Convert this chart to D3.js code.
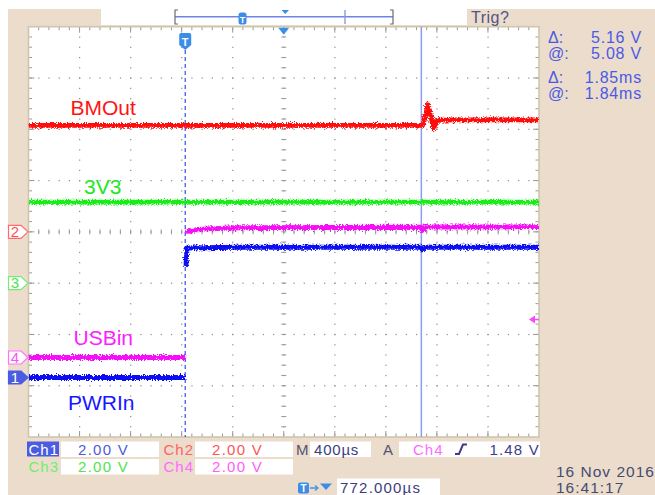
<!DOCTYPE html>
<html>
<head>
<meta charset="utf-8">
<script src="https://cdn.jsdelivr.net/npm/d3@7"></script>
<style>
  html, body { margin: 0; padding: 0; background: #fff; }
  svg { display: block; font-family: "Liberation Sans", Arial, sans-serif; }
</style>
</head>
<body>
<svg id="scope" width="655" height="495"></svg>
<script>
// ---- acquisition settings ----
const timePerDiv = 400;          // µs per division
const horizPosition = 772;       // µs from trigger to screen centre
const hDivs = 10;
const vDivs = 8;
const channels = ["ch1", "ch2", "ch3", "ch4"];
const voltsPerDiv = [2.00, 2.00, 2.00, 2.00];
const channelOffsetDiv = [-2.84, 0, -1.0, -2.45];   // ground marker position, divisions
const triggerLevel = 1.48;       // V on ch4
const cursorTime = 1850;         // µs

// ---- waveforms: [time µs, volts]; null splits a trace ----
const bmOutTime  = [-1228, 1860, 1866, 1902, 1947, 1968, 2100, 2772];
const bmOutVolts = [4.15, 4.15, 4.22, 4.95, 4.02, 4.35, 4.37, 4.37];

const v3v3Time  = [-1228, 2772];
const v3v3Volts = [3.16, 3.16];

const usbInTime  = [-1228, 0, null, 6, 100, 400, 1848, 1858, 1880, 2772];
const usbInVolts = [0, 0, null, 4.9, 5.0, 5.06, 5.08, 4.97, 5.09, 5.1];

const pwrInTime  = [-1228, 2, null, 6, 14, 400, 1848, 1858, 1880, 2772];
const pwrInVolts = [0, 0, null, 4.35, 5.05, 5.08, 5.08, 4.98, 5.08, 5.08];

// ---- readouts ----
const traceLabels = ["BMOut", "3V3", "USBin", "PWRIn"];
const cursorReadout = [["Δ:", "5.16 V"], ["@:", "5.08 V"], ["Δ:", "1.85ms"], ["@:", "1.84ms"]];
const scaleReadout = ["2.00 V", "2.00 V", "2.00 V", "2.00 V"];
const timebaseText = "400µs";
const triggerSource = "Ch4";
const triggerLevelText = "1.48 V";
const horizPosText = "772.000µs";
const dateText = ["16 Nov 2016", "16:41:17"];

// ---- layout ----
const svg = d3.select("#scope");
const W = 655, H = 495;
const plot = { left: 28.5, right: 539, top: 26.7, bottom: 437 };
const beige = "#ecdccc";

const tStart = horizPosition - timePerDiv * hDivs / 2;
const tEnd = horizPosition + timePerDiv * hDivs / 2;
const x = d3.scaleLinear().domain([tStart, tEnd]).range([plot.left, plot.right]);
const yDiv = d3.scaleLinear().domain([-vDivs / 2, vDivs / 2]).range([plot.bottom, plot.top]);
const divW = (plot.right - plot.left) / hDivs;
const divH = (plot.bottom - plot.top) / vDivs;

function yVolts(ch) {
  const i = channels.indexOf(ch);
  return v => yDiv(channelOffsetDiv[i] + v / voltsPerDiv[i]);
}

// background
svg.append("rect").attr("width", W).attr("height", H).attr("fill", "#fff");
svg.append("rect").attr("x", 8).attr("y", 9).attr("width", W - 8).attr("height", H - 9).attr("fill", beige);

// defs
const defs = svg.append("defs");
defs.append("clipPath").attr("id", "plotClip").append("rect")
  .attr("x", plot.left).attr("y", plot.top)
  .attr("width", plot.right - plot.left).attr("height", plot.bottom - plot.top);
const jit = defs.append("filter").attr("id", "jitter")
  .attr("filterUnits", "userSpaceOnUse").attr("x", 0).attr("y", 0).attr("width", W).attr("height", H);
jit.append("feTurbulence").attr("type", "fractalNoise").attr("baseFrequency", "1.4 0.7")
  .attr("numOctaves", 2).attr("seed", 7).attr("result", "noise");
jit.append("feDisplacementMap").attr("in", "SourceGraphic").attr("in2", "noise")
  .attr("scale", 6).attr("xChannelSelector", "R").attr("yChannelSelector", "G");

// ---- record view bar at top ----
const topBar = svg.append("g");
topBar.append("rect").attr("x", 101).attr("y", 0).attr("width", 366).attr("height", 25).attr("fill", "#fff");
topBar.append("line").attr("x1", 175).attr("x2", 393).attr("y1", 16.7).attr("y2", 16.7)
  .attr("stroke", "#7084e4").attr("stroke-width", 1.6);
topBar.append("path").attr("d", "M178,10 L175,10 L175,24 L178,24 M390,10 L393,10 L393,24 L390,24")
  .attr("fill", "none").attr("stroke", "#6a6a78").attr("stroke-width", 1.2);
topBar.append("line").attr("x1", 345).attr("x2", 345).attr("y1", 10).attr("y2", 24)
  .attr("stroke", "#8a98ec").attr("stroke-width", 1.4);
topBar.append("rect").attr("x", 238.5).attr("y", 12.5).attr("width", 8).attr("height", 12).attr("rx", 2.5)
  .attr("fill", "#3a8ee8");
topBar.append("text").attr("x", 242.5).attr("y", 22.5).attr("text-anchor", "middle")
  .attr("font-size", 9).attr("font-weight", "bold").attr("fill", "#fff").text("T");
topBar.append("path").attr("d", "M281.5,10 L289,10 L285.2,14 Z").attr("fill", "#3a8ee8");
svg.append("text").attr("x", 471).attr("y", 22.5).attr("font-size", 16).attr("fill", "#4f5586")
  .attr("letter-spacing", 0.5).text("Trig?");

// ---- graticule ----
svg.append("rect").attr("x", plot.left).attr("y", plot.top)
  .attr("width", plot.right - plot.left).attr("height", plot.bottom - plot.top).attr("fill", "#fff");

const grid = svg.append("g").attr("stroke", "#9a9a9a").attr("stroke-width", 1);
const majorX = d3.range(1, hDivs).map(i => plot.left + i * divW);
const majorY = d3.range(1, vDivs).map(i => plot.top + i * divH);
const minorXs = d3.range(1, hDivs * 5).map(i => plot.left + i * divW / 5);
const minorYs = d3.range(1, vDivs * 5).map(i => plot.top + i * divH / 5);

// dotted major lines
majorX.forEach(gx => {
  minorYs.forEach(gy => grid.append("rect").attr("x", gx - 0.5).attr("y", gy - 0.5)
    .attr("width", 1.2).attr("height", 1.2).attr("fill", "#8c8c8c").attr("stroke", "none"));
});
majorY.forEach(gy => {
  minorXs.forEach(gx => grid.append("rect").attr("x", gx - 0.5).attr("y", gy - 0.5)
    .attr("width", 1.2).attr("height", 1.2).attr("fill", "#8c8c8c").attr("stroke", "none"));
});
// centre crosshair ticks
const cx = plot.left + hDivs / 2 * divW, cy = plot.top + vDivs / 2 * divH;
minorXs.forEach(gx => grid.append("line").attr("x1", gx).attr("x2", gx).attr("y1", cy - 2.5).attr("y2", cy + 2.5));
minorYs.forEach(gy => grid.append("line").attr("x1", cx - 2.5).attr("x2", cx + 2.5).attr("y1", gy).attr("y2", gy));
// edge ticks
minorXs.forEach(gx => {
  grid.append("line").attr("x1", gx).attr("x2", gx).attr("y1", plot.top).attr("y2", plot.top + 3.5);
  grid.append("line").attr("x1", gx).attr("x2", gx).attr("y1", plot.bottom - 3.5).attr("y2", plot.bottom);
});
minorYs.forEach(gy => {
  grid.append("line").attr("x1", plot.left).attr("x2", plot.left + 3.5).attr("y1", gy).attr("y2", gy);
  grid.append("line").attr("x1", plot.right - 3.5).attr("x2", plot.right).attr("y1", gy).attr("y2", gy);
});
majorX.forEach(gx => {
  grid.append("line").attr("x1", gx).attr("x2", gx).attr("y1", plot.top).attr("y2", plot.top + 6);
  grid.append("line").attr("x1", gx).attr("x2", gx).attr("y1", plot.bottom - 6).attr("y2", plot.bottom);
});
majorY.forEach(gy => {
  grid.append("line").attr("x1", plot.left).attr("x2", plot.left + 6).attr("y1", gy).attr("y2", gy);
  grid.append("line").attr("x1", plot.right - 6).attr("x2", plot.right).attr("y1", gy).attr("y2", gy);
});
svg.append("rect").attr("x", plot.left).attr("y", plot.top)
  .attr("width", plot.right - plot.left).attr("height", plot.bottom - plot.top)
  .attr("fill", "none").attr("stroke", "#cfc6ae").attr("stroke-width", 1.6);

// ---- trigger position and cursor ----
const tx = x(0);
svg.append("line").attr("x1", tx).attr("x2", tx).attr("y1", 50).attr("y2", plot.bottom)
  .attr("stroke", "#2f4ff0").attr("stroke-width", 1.2).attr("stroke-dasharray", "4,3");
svg.append("line").attr("x1", x(cursorTime)).attr("x2", x(cursorTime))
  .attr("y1", plot.top).attr("y2", plot.bottom).attr("stroke", "#8c9cf0").attr("stroke-width", 1.5);

// ---- waveforms ----
const traces = svg.append("g").attr("clip-path", "url(#plotClip)");
function drawTrace(ch, times, volts, color) {
  const pts = times.map((t, i) => (t == null ? null : [t, volts[i]]));
  const yv = yVolts(ch);
  const line = d3.line().defined(d => d != null).x(d => x(d[0])).y(d => yv(d[1]));
  traces.append("path").attr("d", line(pts)).attr("fill", "none")
    .attr("stroke", color).attr("stroke-width", 4.8).attr("stroke-linejoin", "round")
    .attr("filter", "url(#jitter)");
}
drawTrace("ch3", v3v3Time, v3v3Volts, "#18ee18");
drawTrace("ch2", bmOutTime, bmOutVolts, "#ff0a0a");
drawTrace("ch4", usbInTime, usbInVolts, "#f80cf8");
drawTrace("ch1", pwrInTime, pwrInVolts, "#1010f4");

// trace names
const labelPos = [[70.5, 115], [84, 193.5], [73.5, 345], [68, 410]];
const labelColors = ["#ff1414", "#22e622", "#ff1cff", "#1616ff"];
traceLabels.forEach((t, i) => svg.append("text").attr("x", labelPos[i][0]).attr("y", labelPos[i][1])
  .attr("font-size", 21).attr("fill", labelColors[i]).text(t));

// trigger markers on graticule
const trigMark = svg.append("g");
trigMark.append("path")
  .attr("d", `M${tx - 6},35 Q${tx - 6},33 ${tx - 4},33 L${tx + 4},33 Q${tx + 6},33 ${tx + 6},35 L${tx + 6},45 L${tx},50 L${tx - 6},45 Z`)
  .attr("fill", "#3a8ee8");
trigMark.append("text").attr("x", tx).attr("y", 45.5).attr("text-anchor", "middle")
  .attr("font-size", 11).attr("font-weight", "bold").attr("fill", "#fff").text("T");
svg.append("path").attr("d", `M${cx - 5.5},${plot.top + 1} L${cx + 5.5},${plot.top + 1} L${cx},${plot.top + 8} Z`)
  .attr("fill", "#3a8ee8");
// trigger level arrow (ch4)
const tly = yVolts("ch4")(triggerLevel);
svg.append("path").attr("d", `M${plot.right - 10},${tly} L${plot.right - 4},${tly - 4} L${plot.right - 4},${tly + 4} Z`)
  .attr("fill", "#ff44ff");
svg.append("line").attr("x1", plot.right - 5).attr("x2", plot.right).attr("y1", tly).attr("y2", tly)
  .attr("stroke", "#ff44ff").attr("stroke-width", 1.5);

// ---- channel ground markers ----
const markerStyle = [
  { fill: "#4c5ce0", stroke: "#4c5ce0", text: "#fff" },
  { fill: "#fff", stroke: "#ff6a6a", text: "#ff5050" },
  { fill: "#fff", stroke: "#70ee70", text: "#50e050" },
  { fill: "#fff", stroke: "#ff70ff", text: "#ff50ff" }
];
channels.forEach((ch, i) => {
  const my = yDiv(channelOffsetDiv[i]);
  const s = markerStyle[i];
  svg.append("path").attr("d", `M8.5,${my - 6.5} L21,${my - 6.5} L28,${my} L21,${my + 6.5} L8.5,${my + 6.5} Z`)
    .attr("fill", s.fill).attr("stroke", s.stroke).attr("stroke-width", 1.2);
  svg.append("text").attr("x", 15).attr("y", my + 5.3).attr("text-anchor", "middle")
    .attr("font-size", 15).attr("fill", s.text).text(String(i + 1));
});

// ---- cursor readout ----
const rdY = [43, 59, 83, 99];
cursorReadout.forEach((r, i) => {
  svg.append("text").attr("x", 548).attr("y", rdY[i]).attr("font-size", 16).attr("fill", "#4a5ae6").text(r[0]);
  svg.append("text").attr("x", 642).attr("y", rdY[i]).attr("text-anchor", "end").attr("font-size", 16)
    .attr("letter-spacing", 0.8).attr("fill", "#4a5ae6").text(r[1]);
});

// ---- bottom status ----
const bottom = svg.append("g").attr("font-size", 15);
function box(x0, y0, w, h) {
  bottom.append("rect").attr("x", x0).attr("y", y0).attr("width", w).attr("height", h).attr("fill", "#fff");
}
const rowY = [441.5, 459];
const chTextColor = ["#fff", "#ff6464", "#6cf06c", "#ff6cff"];
const valColor = ["#4c5ce0", "#ff5454", "#4ee44e", "#ff5cff"];
const chBoxX = [[27, 61], [162, 195], [27, 61], [162, 195]];
const chRow = [0, 0, 1, 1];
bottom.append("rect").attr("x", 27).attr("y", rowY[0]).attr("width", 32).attr("height", 15).attr("fill", "#4c5ce0");
channels.forEach((ch, i) => {
  const y0 = rowY[chRow[i]];
  bottom.append("text").attr("x", chBoxX[i][0] + 1.5).attr("y", y0 + 13).attr("fill", chTextColor[i])
    .attr("letter-spacing", 1).text("Ch" + (i + 1));
  box(chBoxX[i][1], y0, 98, 15.5);
  bottom.append("text").attr("x", chBoxX[i][1] + 17).attr("y", y0 + 13).attr("fill", valColor[i])
    .attr("letter-spacing", 1.3).text(scaleReadout[i]);
});
bottom.append("text").attr("x", 296).attr("y", rowY[0] + 13).attr("fill", "#545474").text("M");
box(310, rowY[0], 61, 15.5);
bottom.append("text").attr("x", 314).attr("y", rowY[0] + 13).attr("fill", "#3c3c80").attr("letter-spacing", 0.8).text(timebaseText);
bottom.append("text").attr("x", 383).attr("y", rowY[0] + 13).attr("fill", "#545474").text("A");
box(399, rowY[0], 141, 15.5);
bottom.append("text").attr("x", 413).attr("y", rowY[0] + 13).attr("fill", "#ff6cff").attr("letter-spacing", 1).text(triggerSource);
bottom.append("path").attr("d", `M455,${rowY[0] + 12.5} L459,${rowY[0] + 12.5} L463,${rowY[0] + 3} L467,${rowY[0] + 3}`)
  .attr("fill", "none").attr("stroke", "#3c3c8a").attr("stroke-width", 2);
bottom.append("text").attr("x", 540).attr("y", rowY[0] + 13).attr("text-anchor", "end").attr("fill", "#3c3c8a")
  .attr("letter-spacing", 1.2).text(triggerLevelText);

// horizontal position
const hp = svg.append("g");
hp.append("rect").attr("x", 298).attr("y", 482.5).attr("width", 11).attr("height", 11).attr("rx", 2).attr("fill", "#3a8ee8");
hp.append("text").attr("x", 303.5).attr("y", 492).attr("text-anchor", "middle").attr("font-size", 10)
  .attr("font-weight", "bold").attr("fill", "#fff").text("T");
hp.append("line").attr("x1", 310).attr("x2", 317).attr("y1", 488).attr("y2", 488).attr("stroke", "#3a8ee8").attr("stroke-width", 1.4);
hp.append("path").attr("d", "M315,485.5 L318,488 L315,490.5").attr("fill", "none").attr("stroke", "#3a8ee8").attr("stroke-width", 1.2);
hp.append("path").attr("d", "M320,483.5 L332,483.5 L326,490 Z").attr("fill", "#3a8ee8");
hp.append("rect").attr("x", 337).attr("y", 478.5).attr("width", 103).attr("height", 17).attr("fill", "#fff");
hp.append("text").attr("x", 340).attr("y", 493).attr("font-size", 15).attr("fill", "#3c3c80")
  .attr("letter-spacing", 1.2).text(horizPosText);

// date / time
svg.append("text").attr("x", 556).attr("y", 477).attr("font-size", 15.5).attr("fill", "#444c74")
  .attr("letter-spacing", 1).text(dateText[0]);
svg.append("text").attr("x", 556).attr("y", 492.5).attr("font-size", 15.5).attr("fill", "#444c74")
  .attr("letter-spacing", 1).text(dateText[1]);
</script>
</body>
</html>
